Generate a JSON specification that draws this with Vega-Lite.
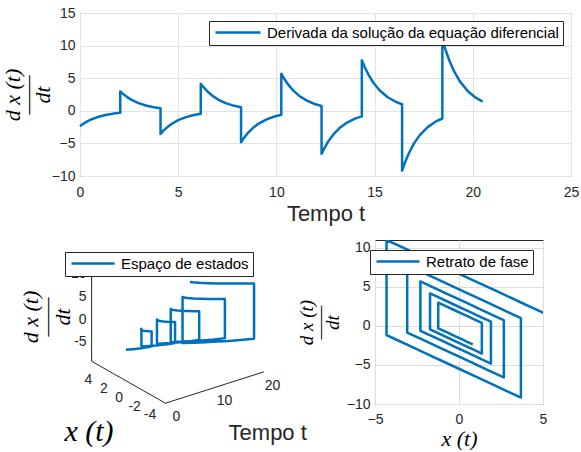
{
  "$schema": "https://vega.github.io/schema/vega-lite/v6.json",
  "padding": {"left": 0, "top": 5, "right": 0, "bottom": 0},
  "background": "white",
  "config": {
    "font": "Liberation Sans",
    "view": {"stroke": "#262626", "strokeWidth": 1},
    "axis": {"labelColor": "#262626", "labelFontSize": 14, "labelFont": "Liberation Sans", "domain": false, "ticks": false, "titleFont": "Liberation Serif", "titleFontStyle": "italic", "titleFontWeight": "normal", "titleColor": "#000000"},
    "legend": {"labelFont": "Liberation Sans", "labelFontSize": 15, "labelColor": "#000000", "labelLimit": 400, "strokeColor": "#262626", "fillColor": "white", "padding": 4, "symbolStrokeWidth": 2.5, "symbolSize": 100, "cornerRadius": 0, "title": null}
  },
  "datasets": {
    "sol": [
      {"i":0,"t":0,"x":0.82,"d":-2.36},{"i":1,"t":0.15,"x":0.491,"d":-2.031},{"i":2,"t":0.35,"x":0.123,"d":-1.663},{"i":3,"t":0.6,"x":-0.245,"d":-1.295},{"i":4,"t":0.9,"x":-0.58,"d":-0.96},{"i":5,"t":1.3,"x":-0.897,"d":-0.643},{"i":6,"t":1.7,"x":-1.109,"d":-0.431},{"i":7,"t":2.05,"x":-1.236,"d":-0.304},
      {"i":8,"t":2.05,"x":-1.236,"d":2.98},{"i":9,"t":2.2,"x":-0.821,"d":2.565},{"i":10,"t":2.4,"x":-0.356,"d":2.1},{"i":11,"t":2.65,"x":0.109,"d":1.635},{"i":12,"t":2.95,"x":0.532,"d":1.212},{"i":13,"t":3.35,"x":0.932,"d":0.812},{"i":14,"t":3.75,"x":1.2,"d":0.544},{"i":15,"t":4.1,"x":1.36,"d":0.384},
      {"i":16,"t":4.1,"x":1.36,"d":-3.54},{"i":17,"t":4.25,"x":0.867,"d":-3.047},{"i":18,"t":4.45,"x":0.315,"d":-2.495},{"i":19,"t":4.7,"x":-0.237,"d":-1.943},{"i":20,"t":5.0,"x":-0.741,"d":-1.439},{"i":21,"t":5.4,"x":-1.215,"d":-0.965},{"i":22,"t":5.8,"x":-1.533,"d":-0.647},{"i":23,"t":6.15,"x":-1.724,"d":-0.456},
      {"i":24,"t":6.15,"x":-1.724,"d":4.16},{"i":25,"t":6.3,"x":-1.145,"d":3.581},{"i":26,"t":6.5,"x":-0.496,"d":2.932},{"i":27,"t":6.75,"x":0.153,"d":2.283},{"i":28,"t":7.05,"x":0.745,"d":1.691},{"i":29,"t":7.45,"x":1.302,"d":1.134},{"i":30,"t":7.85,"x":1.676,"d":0.76},{"i":31,"t":8.2,"x":1.901,"d":0.535},
      {"i":32,"t":8.2,"x":1.901,"d":-4.82},{"i":33,"t":8.35,"x":1.23,"d":-4.149},{"i":34,"t":8.55,"x":0.478,"d":-3.397},{"i":35,"t":8.8,"x":-0.274,"d":-2.645},{"i":36,"t":9.1,"x":-0.959,"d":-1.96},{"i":37,"t":9.5,"x":-1.606,"d":-1.313},{"i":38,"t":9.9,"x":-2.038,"d":-0.881},{"i":39,"t":10.25,"x":-2.299,"d":-0.62},
      {"i":40,"t":10.25,"x":-2.299,"d":5.7},{"i":41,"t":10.4,"x":-1.505,"d":4.906},{"i":42,"t":10.6,"x":-0.616,"d":4.017},{"i":43,"t":10.85,"x":0.273,"d":3.128},{"i":44,"t":11.15,"x":1.083,"d":2.318},{"i":45,"t":11.55,"x":1.848,"d":1.553},{"i":46,"t":11.95,"x":2.36,"d":1.041},{"i":47,"t":12.3,"x":2.667,"d":0.734},
      {"i":48,"t":12.3,"x":2.667,"d":-6.6},{"i":49,"t":12.45,"x":1.748,"d":-5.681},{"i":50,"t":12.65,"x":0.718,"d":-4.651},{"i":51,"t":12.9,"x":-0.311,"d":-3.622},{"i":52,"t":13.2,"x":-1.249,"d":-2.684},{"i":53,"t":13.6,"x":-2.135,"d":-1.799},{"i":54,"t":14.0,"x":-2.727,"d":-1.206},{"i":55,"t":14.35,"x":-3.084,"d":-0.849},
      {"i":56,"t":14.35,"x":-3.084,"d":7.77},{"i":57,"t":14.5,"x":-2.002,"d":6.688},{"i":58,"t":14.7,"x":-0.79,"d":5.476},{"i":59,"t":14.95,"x":0.422,"d":4.264},{"i":60,"t":15.25,"x":1.527,"d":3.159},{"i":61,"t":15.65,"x":2.569,"d":2.117},{"i":62,"t":16.05,"x":3.266,"d":1.42},{"i":63,"t":16.4,"x":3.686,"d":1.0},
      {"i":64,"t":16.4,"x":3.686,"d":-9.18},{"i":65,"t":16.55,"x":2.407,"d":-7.901},{"i":66,"t":16.75,"x":0.975,"d":-6.469},{"i":67,"t":17.0,"x":-0.456,"d":-5.038},{"i":68,"t":17.3,"x":-1.761,"d":-3.733},{"i":69,"t":17.7,"x":-2.992,"d":-2.502},{"i":70,"t":18.1,"x":-3.817,"d":-1.677},{"i":71,"t":18.45,"x":-4.313,"d":-1.181},
      {"i":72,"t":18.45,"x":-4.313,"d":11.0},{"i":73,"t":18.6,"x":-2.781,"d":9.468},{"i":74,"t":18.8,"x":-1.065,"d":7.752},{"i":75,"t":19.05,"x":0.65,"d":6.037},{"i":76,"t":19.35,"x":2.214,"d":4.473},{"i":77,"t":19.75,"x":3.69,"d":2.998},{"i":78,"t":20.15,"x":4.677,"d":2.01},{"i":79,"t":20.5,"x":5.271,"d":1.416}
    ],
    "axes3d": [
      {"axis":"d","p":0,"t":0,"x":5.271,"d":-9.18},{"axis":"d","p":1,"t":0,"x":5.271,"d":11.0},
      {"axis":"x","p":0,"t":0,"x":-4.313,"d":-9.18},{"axis":"x","p":1,"t":0,"x":5.271,"d":-9.18},
      {"axis":"t","p":0,"t":0,"x":-4.313,"d":-9.18},{"axis":"t","p":1,"t":20.5,"x":-4.313,"d":-9.18}
    ],
    "ticks3d": [
      {"axis":"x","t":0,"x":4,"d":-9.18,"label":"4"},{"axis":"x","t":0,"x":2,"d":-9.18,"label":"2"},{"axis":"x","t":0,"x":0,"d":-9.18,"label":"0"},{"axis":"x","t":0,"x":-2,"d":-9.18,"label":"-2"},{"axis":"x","t":0,"x":-4,"d":-9.18,"label":"-4"},
      {"axis":"t","t":0,"x":-4.313,"d":-9.18,"label":"0"},{"axis":"t","t":10,"x":-4.313,"d":-9.18,"label":"10"},{"axis":"t","t":20,"x":-4.313,"d":-9.18,"label":"20"},
      {"axis":"d","t":0,"x":5.271,"d":-5,"label":"-5"},{"axis":"d","t":0,"x":5.271,"d":0,"label":"0"},{"axis":"d","t":0,"x":5.271,"d":5,"label":"5"},{"axis":"d","t":0,"x":5.271,"d":10,"label":"10"}
    ],
    "titles3d": [
      {"name":"x","t":0,"x":0.48,"d":-9.18},{"name":"t","t":10.25,"x":-4.313,"d":-9.18},{"name":"d","t":0,"x":5.271,"d":0.91}
    ]
  },
  "resolve": {"scale": {"color": "independent"}, "legend": {"color": "independent"}},
  "bounds": "flush",
  "spacing": 64,
  "vconcat": [
    {
      "width": 491,
      "height": 163,
      "data": {"name": "sol"},
      "mark": {"type": "line", "strokeWidth": 2.5, "strokeJoin": "round"},
      "encoding": {
        "x": {"field": "t", "type": "quantitative", "scale": {"domain": [0, 25], "nice": false},
              "axis": {"values": [0, 5, 10, 15, 20, 25], "grid": true, "gridColor": "#e3e3e3", "labelFlush": false, "labelPadding": 9, "title": "Tempo t", "titleFont": "Liberation Sans", "titleFontStyle": "normal", "titleFontSize": 22, "titlePadding": 4, "titleColor": "#262626"}},
        "y": {"field": "d", "type": "quantitative", "scale": {"domain": [-10, 15], "nice": false},
              "axis": {"values": [-10, -5, 0, 5, 10, 15], "grid": true, "gridColor": "#e3e3e3", "labelFlush": false, "labelPadding": 5, "title": ["d x (t)", "——", "dt"], "titleFontSize": 22, "titleLineHeight": 15, "titlePadding": -3}},
        "color": {"datum": "Derivada da solução da equação diferencial", "type": "nominal", "scale": {"range": ["#0072BD"]},
                  "legend": {"orient": "top-right", "offset": 8, "symbolType": "M-1,0H8", "labelOffset": 39}},
        "order": {"field": "i", "type": "quantitative"}
      }
    },
    {
      "bounds": "flush",
      "spacing": 75,
      "resolve": {"scale": {"color": "independent"}, "legend": {"color": "independent"}},
      "hconcat": [
        {
          "width": 220,
          "height": 202,
          "view": {"stroke": null},
          "layer": [
            {
              "data": {"name": "axes3d"},
              "transform": [
                {"calculate": "4.8*datum.t - 7.71*(datum.x + 4.313)", "as": "u"},
                {"calculate": "1.53*datum.t + 4.375*(datum.x + 4.313) + 4.53*(datum.d + 9.18)", "as": "v"}
              ],
              "mark": {"type": "line", "color": "#262626", "strokeWidth": 1},
              "encoding": {
                "x": {"field": "u", "type": "quantitative", "scale": {"domain": [-85.5, 134.5], "nice": false, "zero": false}, "axis": null},
                "y": {"field": "v", "type": "quantitative", "scale": {"domain": [-38.8, 163.2], "nice": false, "zero": false}, "axis": null},
                "detail": {"field": "axis"},
                "order": {"field": "p", "type": "quantitative"}
              }
            },
            {
              "data": {"name": "sol"},
              "transform": [
                {"calculate": "4.8*datum.t - 7.71*(datum.x + 4.313)", "as": "u"},
                {"calculate": "1.53*datum.t + 4.375*(datum.x + 4.313) + 4.53*(datum.d + 9.18)", "as": "v"}
              ],
              "mark": {"type": "line", "strokeWidth": 2.5, "strokeJoin": "round"},
              "encoding": {
                "x": {"field": "u", "type": "quantitative"},
                "y": {"field": "v", "type": "quantitative"},
                "order": {"field": "i", "type": "quantitative"},
                "color": {"datum": "Espaço de estados", "type": "nominal", "scale": {"range": ["#0072BD"]},
                          "legend": {"orient": "none", "legendX": -15, "legendY": 12, "symbolType": "M-1,0H7.6", "labelOffset": 37}}
              }
            },
            {
              "data": {"name": "ticks3d"},
              "transform": [
                {"filter": "datum.axis == 'x'"},
                {"calculate": "4.8*datum.t - 7.71*(datum.x + 4.313)", "as": "u"},
                {"calculate": "1.53*datum.t + 4.375*(datum.x + 4.313) + 4.53*(datum.d + 9.18)", "as": "v"}
              ],
              "mark": {"type": "text", "dx": -13, "dy": 13.5, "fontSize": 14, "color": "#262626", "align": "center", "baseline": "middle"},
              "encoding": {"x": {"field": "u", "type": "quantitative"}, "y": {"field": "v", "type": "quantitative"}, "text": {"field": "label"}}
            },
            {
              "data": {"name": "ticks3d"},
              "transform": [
                {"filter": "datum.axis == 't'"},
                {"calculate": "4.8*datum.t - 7.71*(datum.x + 4.313)", "as": "u"},
                {"calculate": "1.53*datum.t + 4.375*(datum.x + 4.313) + 4.53*(datum.d + 9.18)", "as": "v"}
              ],
              "mark": {"type": "text", "dx": 11, "dy": 13.5, "fontSize": 14, "color": "#262626", "align": "center", "baseline": "middle"},
              "encoding": {"x": {"field": "u", "type": "quantitative"}, "y": {"field": "v", "type": "quantitative"}, "text": {"field": "label"}}
            },
            {
              "data": {"name": "ticks3d"},
              "transform": [
                {"filter": "datum.axis == 'd'"},
                {"calculate": "4.8*datum.t - 7.71*(datum.x + 4.313)", "as": "u"},
                {"calculate": "1.53*datum.t + 4.375*(datum.x + 4.313) + 4.53*(datum.d + 9.18)", "as": "v"}
              ],
              "mark": {"type": "text", "dx": -5, "dy": 0, "fontSize": 14, "color": "#262626", "align": "right", "baseline": "middle"},
              "encoding": {"x": {"field": "u", "type": "quantitative"}, "y": {"field": "v", "type": "quantitative"}, "text": {"field": "label"}}
            },
            {
              "data": {"name": "titles3d"},
              "transform": [
                {"filter": "datum.name == 'x'"},
                {"calculate": "4.8*datum.t - 7.71*(datum.x + 4.313)", "as": "u"},
                {"calculate": "1.53*datum.t + 4.375*(datum.x + 4.313) + 4.53*(datum.d + 9.18)", "as": "v"}
              ],
              "mark": {"type": "text", "text": "x (t)", "dx": -39.5, "dy": 50, "fontSize": 30, "font": "Liberation Serif", "fontStyle": "italic", "color": "#000000", "align": "center", "baseline": "middle"},
              "encoding": {"x": {"field": "u", "type": "quantitative"}, "y": {"field": "v", "type": "quantitative"}}
            },
            {
              "data": {"name": "titles3d"},
              "transform": [
                {"filter": "datum.name == 't'"},
                {"calculate": "4.8*datum.t - 7.71*(datum.x + 4.313)", "as": "u"},
                {"calculate": "1.53*datum.t + 4.375*(datum.x + 4.313) + 4.53*(datum.d + 9.18)", "as": "v"}
              ],
              "mark": {"type": "text", "text": "Tempo t", "dx": 53, "dy": 45, "fontSize": 22, "font": "Liberation Sans", "color": "#262626", "align": "center", "baseline": "middle"},
              "encoding": {"x": {"field": "u", "type": "quantitative"}, "y": {"field": "v", "type": "quantitative"}}
            },
            {
              "data": {"name": "titles3d"},
              "transform": [
                {"filter": "datum.name == 'd'"},
                {"calculate": "4.8*datum.t - 7.71*(datum.x + 4.313)", "as": "u"},
                {"calculate": "1.53*datum.t + 4.375*(datum.x + 4.313) + 4.53*(datum.d + 9.18)", "as": "v"}
              ],
              "mark": {"type": "text", "text": ["d x (t)", "——", "dt"], "angle": 270, "lineHeight": 16, "dx": -1.4, "dy": -61, "fontSize": 22, "font": "Liberation Serif", "fontStyle": "italic", "color": "#000000", "align": "center", "baseline": "middle"},
              "encoding": {"x": {"field": "u", "type": "quantitative"}, "y": {"field": "v", "type": "quantitative"}}
            }
          ]
        },
        {
          "width": 168,
          "height": 164,
          "data": {"name": "sol"},
          "mark": {"type": "line", "strokeWidth": 2.5, "strokeJoin": "round", "clip": true},
          "encoding": {
            "x": {"field": "x", "type": "quantitative", "scale": {"domain": [-5, 5], "nice": false},
                  "axis": {"values": [-5, 0, 5], "labelFlush": false, "labelPadding": 8, "title": "x (t)", "titleFontSize": 22, "titlePadding": 2}},
            "y": {"field": "d", "type": "quantitative", "scale": {"domain": [-10, 11], "nice": false},
                  "axis": {"values": [-10, -5, 0, 5, 10], "labelFlush": false, "labelPadding": 5, "title": ["d x (t)", "——", "dt"], "titleFontSize": 19, "titleLineHeight": 13, "titlePadding": 4}},
            "order": {"field": "i", "type": "quantitative"},
            "color": {"datum": "Retrato de fase", "type": "nominal", "scale": {"range": ["#0072BD"]},
                      "legend": {"orient": "top-right", "offset": 10, "symbolType": "M-1,0H7.6", "labelOffset": 37}}
          }
        }
      ]
    }
  ]
}
